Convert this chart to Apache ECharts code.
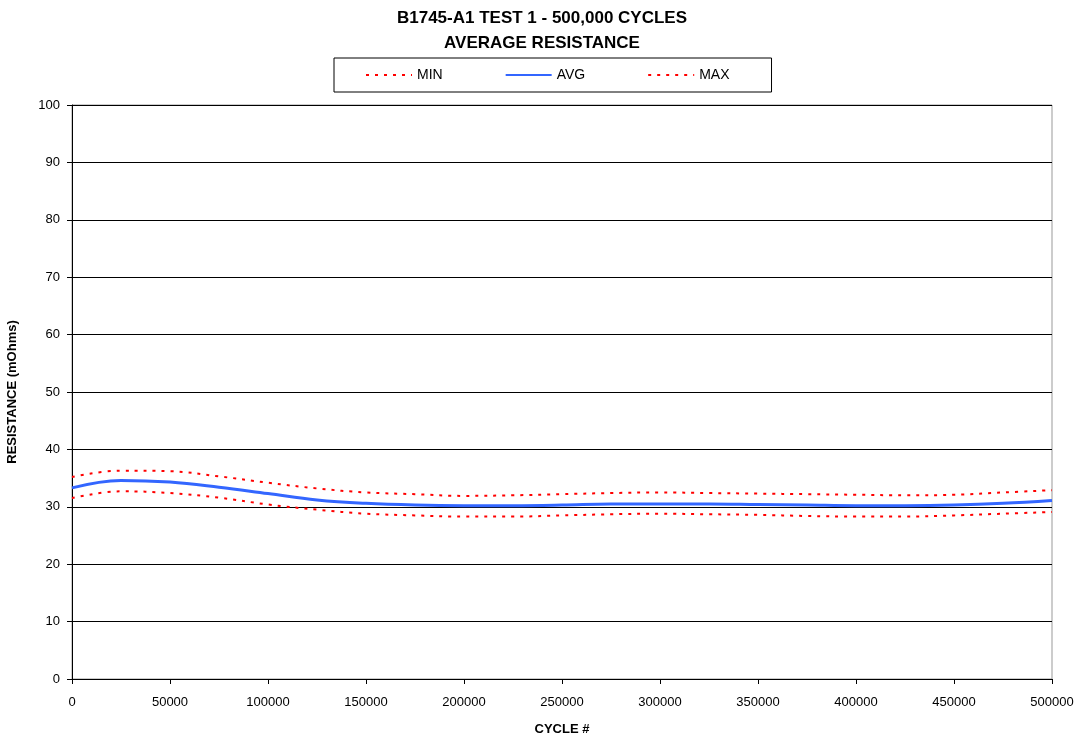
<!DOCTYPE html>
<html>
<head>
<meta charset="utf-8">
<script src="https://cdn.jsdelivr.net/npm/echarts@6/dist/echarts.min.js"></script>
<style>html,body{margin:0;padding:0;background:#fff}#c{width:1084px;height:740px}</style>
</head>
<body>
<div id="c"></div>
<script>
const cycles = [0,25000,50000,75000,100000,125000,150000,175000,200000,225000,250000,275000,300000,325000,350000,375000,400000,425000,450000,475000,500000];
const minVals = [31.5,32.7,32.4,31.6,30.4,29.5,28.8,28.5,28.3,28.3,28.5,28.7,28.8,28.7,28.6,28.4,28.3,28.3,28.5,28.8,29.1];
const avgVals = [33.3,34.6,34.3,33.4,32.3,31.2,30.6,30.3,30.2,30.2,30.3,30.5,30.5,30.5,30.4,30.3,30.2,30.2,30.3,30.6,31.1];
const maxVals = [35.2,36.3,36.2,35.3,34.2,33.2,32.5,32.2,31.9,32.0,32.2,32.4,32.5,32.4,32.3,32.2,32.1,32.0,32.1,32.5,32.9];
const seriesNames = ['MIN','AVG','MAX'];

const pair = (vals) => cycles.map((c, i) => [c, vals[i]]);
const font = 'Liberation Sans, Arial, sans-serif';
const chart = echarts.init(document.getElementById('c'), null, {renderer: 'canvas'});
const dotted = {color: '#ff0000', width: 2, type: [3, 6]};
chart.setOption({
  animation: false,
  backgroundColor: '#fff',
  title: {
    text: 'B1745-A1 TEST 1 - 500,000 CYCLES\nAVERAGE RESISTANCE',
    left: 'center', top: 1,
    textStyle: {fontFamily: font, fontSize: 17, fontWeight: 'bold', color: '#000', lineHeight: 25}
  },
  legend: {
    left: 334, top: 58,
    padding: [10, 42, 10, 31],
    borderColor: '#000', borderWidth: 1, borderRadius: 0,
    itemWidth: 46, itemHeight: 14, itemGap: 62,
    itemStyle: {opacity: 0},
    data: seriesNames,
    textStyle: {fontFamily: font, fontSize: 14, color: '#000'}
  },
  grid: {left: 72, right: 32, top: 105, bottom: 61, containLabel: false, outerBoundsMode: 'none', show: true, borderColor: '#999', borderWidth: 1},
  xAxis: {
    type: 'value', min: 0, max: 500000, interval: 50000,
    name: 'CYCLE #', nameLocation: 'middle', nameGap: 44,
    nameTextStyle: {fontFamily: font, fontSize: 13, fontWeight: 'bold', color: '#000'},
    axisLine: {lineStyle: {color: '#000', width: 1}},
    axisTick: {show: true, length: 5, lineStyle: {color: '#000'}},
    axisLabel: {fontFamily: font, fontSize: 13, color: '#000', margin: 17, formatter: v => String(v)},
    splitLine: {show: false}
  },
  yAxis: {
    type: 'value', min: 0, max: 100, interval: 10,
    name: 'RESISTANCE (mOhms)', nameLocation: 'middle', nameGap: 53, nameRotate: 90,
    nameTextStyle: {fontFamily: font, fontSize: 13, fontWeight: 'bold', color: '#000'},
    axisLine: {show: true, lineStyle: {color: '#000', width: 1}},
    axisTick: {show: true, length: 5, lineStyle: {color: '#000'}},
    axisLabel: {fontFamily: font, fontSize: 13, color: '#000', margin: 12},
    splitLine: {show: true, lineStyle: {color: '#000', width: 1}}
  },
  series: [
    {name: 'MIN', type: 'line', data: pair(minVals), smooth: 0.4, symbol: 'none', lineStyle: dotted, itemStyle: {color: '#ff0000'}, z: 3},
    {name: 'AVG', type: 'line', data: pair(avgVals), smooth: 0.4, symbol: 'none', lineStyle: {color: '#3366ff', width: 3}, itemStyle: {color: '#3366ff'}, z: 4},
    {name: 'MAX', type: 'line', data: pair(maxVals), smooth: 0.4, symbol: 'none', lineStyle: dotted, itemStyle: {color: '#ff0000'}, z: 3}
  ]
});
</script>
</body>
</html>
